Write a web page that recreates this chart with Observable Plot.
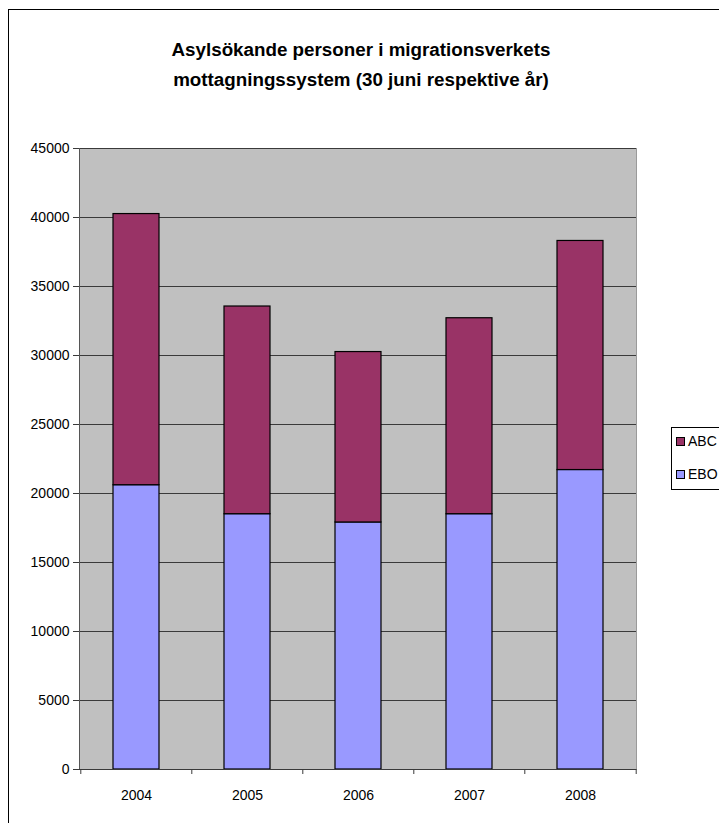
<!DOCTYPE html>
<html>
<head>
<meta charset="utf-8">
<script src="https://cdn.jsdelivr.net/npm/d3@7"></script>
<script src="https://cdn.jsdelivr.net/npm/@observablehq/plot@0.6"></script>
<style>
  html, body { margin: 0; padding: 0; background: #fff; overflow: hidden; }
  body { width: 719px; height: 823px; position: relative; font-family: "Liberation Sans", Arial, sans-serif; }
  #frame { position: absolute; left: 8px; top: 9px; width: 760px; height: 860px; border: 1.5px solid #000; box-sizing: border-box; }
  #title { position: absolute; left: 0; width: 722px; top: 35px; text-align: center; font-weight: bold; font-size: 18.8px; line-height: 30px; color: #000; }
  #chart { position: absolute; left: 0; top: 0; }
  #legend { position: absolute; left: 671px; top: 427px; width: 80px; height: 63px; border: 1px solid #000; box-sizing: border-box; background: #fff; font-size: 14px; }
  .item { position: absolute; left: 4px; display: flex; align-items: center; }
  .sw { width: 7px; height: 7px; border: 1px solid #000; margin-right: 3px; }
</style>
</head>
<body>
<div id="frame"></div>
<div id="title">Asylsökande personer i migrationsverkets<br>mottagningssystem (30 juni respektive år)</div>
<div id="chart"></div>
<div id="legend"></div>
<script>
// Asylum seekers in the reception system, 30 June each year
const years = ["2004", "2005", "2006", "2007", "2008"];
const ebo = [20600, 18500, 17900, 18500, 21700];   // own housing (EBO)
const abo = [19650, 15050, 12350, 14200, 16600];   // facility housing (ABO)
const seriesNames = ["ABC", "EBO"];
const seriesColors = ["#993366", "#9999ff"];
const yTicks = [0, 5000, 10000, 15000, 20000, 25000, 30000, 35000, 40000, 45000];

// long table: EBO first so it sits at the bottom of each stack
const rows = [
  ...years.map((year, i) => ({year, series: "EBO", value: ebo[i]})),
  ...years.map((year, i) => ({year, series: "ABC", value: abo[i]}))
];

const W = 719, H = 823;
const mL = 79, mR = 83, mT = 148, mB = 54;
const step = (W - mL - mR) / years.length;

const chart = Plot.plot({
  width: W,
  height: H,
  marginLeft: mL,
  marginRight: mR,
  marginTop: mT,
  marginBottom: mB,
  style: {fontFamily: "'Liberation Sans', Arial, sans-serif", fontSize: "14px", color: "#000", background: "transparent"},
  x: {domain: years, paddingInner: 0.59, paddingOuter: 0.295, align: 0.5, label: null},
  y: {domain: [0, 45000], label: null},
  color: {domain: seriesNames, range: seriesColors},
  marks: [
    Plot.frame({fill: "#c0c0c0", stroke: "#9a9a9a"}),
    Plot.gridY(yTicks, {stroke: "#3a3a3a", strokeOpacity: 1, strokeWidth: 1}),
    Plot.barY(rows, Plot.stackY({x: "year", y: "value", fill: "series", stroke: "#000", strokeWidth: 1.2})),
    Plot.frame({anchor: "left", stroke: "#555"}),
    Plot.ruleY([0], {stroke: "#3a3a3a", strokeWidth: 1.2}),
    Plot.axisY(yTicks, {tickSize: 6, tickPadding: 4, tickFormat: d => String(d), label: null, stroke: "#3a3a3a", fill: "#000"}),
    Plot.axisX({tickSize: 0, tickPadding: 21, label: null, fill: "#000"}),
    // category boundary ticks under the axis
    Plot.axisX(years, {tickSize: 5, dx: -step / 2, text: null, label: null, stroke: "#3a3a3a"}),
    Plot.axisX([years[years.length - 1]], {tickSize: 5, dx: step / 2, text: null, label: null, stroke: "#3a3a3a"})
  ]
});
document.getElementById("chart").appendChild(chart);

// legend
const legend = document.getElementById("legend");
seriesNames.forEach((name, i) => {
  const item = document.createElement("div");
  item.className = "item";
  item.style.top = (5 + i * 33) + "px";
  const sw = document.createElement("span");
  sw.className = "sw";
  sw.style.background = seriesColors[i];
  const label = document.createElement("span");
  label.textContent = name;
  item.appendChild(sw);
  item.appendChild(label);
  legend.appendChild(item);
});
</script>
</body>
</html>
